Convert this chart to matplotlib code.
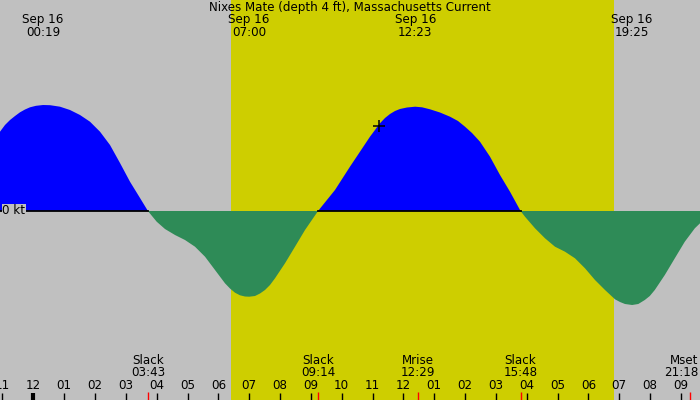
import numpy as np
import matplotlib
matplotlib.use("Agg")
import matplotlib.pyplot as plt

# ---- data (hours after midnight Sep 16, current in kt) ----
hours = [-1.080, -0.918, -0.755, -0.593, -0.431, -0.269, -0.107, 0.088, 0.317, 0.545,
         0.866, 1.190, 1.514, 1.838, 2.163, 2.487, 2.811, 3.135, 3.460, 3.717,
         3.849, 4.001, 4.270, 4.595, 4.919, 5.243, 5.568, 5.892, 6.216, 6.378,
         6.540, 6.702, 6.864, 7.000, 7.189, 7.351, 7.513, 7.675, 7.837, 8.161,
         8.486, 8.810, 9.233, 9.782, 10.268, 10.593, 10.917, 11.241, 11.404, 11.566,
         11.728, 11.890, 12.117, 12.383, 12.605, 12.863, 13.187, 13.512, 13.771, 13.998,
         14.225, 14.484, 14.809, 15.133, 15.457, 15.800, 15.943, 16.268, 16.592, 16.916,
         17.240, 17.565, 17.889, 18.213, 18.538, 18.862, 19.024, 19.186, 19.417, 19.617,
         19.828, 19.990, 20.152, 20.477, 20.801, 21.125, 21.450, 21.618]
current = [0.793, 0.860, 0.910, 0.950, 0.987, 1.015, 1.037, 1.052, 1.060, 1.058,
           1.043, 1.010, 0.960, 0.893, 0.793, 0.660, 0.480, 0.293, 0.130, 0.000,
           -0.050, -0.107, -0.180, -0.240, -0.290, -0.357, -0.457, -0.590, -0.723, -0.775,
           -0.817, -0.843, -0.855, -0.857, -0.850, -0.825, -0.790, -0.740, -0.673, -0.523,
           -0.357, -0.190, 0.000, 0.210, 0.443, 0.593, 0.743, 0.877, 0.930, 0.970,
           1.000, 1.020, 1.035, 1.043, 1.037, 1.017, 0.985, 0.943, 0.900, 0.843,
           0.780, 0.693, 0.543, 0.360, 0.193, 0.000, -0.057, -0.173, -0.273, -0.357,
           -0.407, -0.473, -0.573, -0.690, -0.790, -0.883, -0.910, -0.930, -0.940, -0.930,
           -0.890, -0.850, -0.790, -0.640, -0.473, -0.307, -0.173, -0.123]

title = "Nixes Mate (depth 4 ft), Massachusetts Current"

extreme_hours = [0.317, 7.000, 12.383, 19.417]
extreme_labels = ["Sep 16\n00:19", "Sep 16\n07:00", "Sep 16\n12:23", "Sep 16\n19:25"]

event_hours = [3.717, 9.233, 12.483, 15.800, 21.300]
event_labels = ["Slack\n03:43", "Slack\n09:14", "Mrise\n12:29", "Slack\n15:48", "Mset\n21:18"]

sunrise, sunset = 6.41, 18.83
now_hour, now_value = 11.21, 0.85

tick_hours = list(range(-1, 22))
tick_labels = ["%02d" % (12 if h % 12 == 0 else h % 12) for h in tick_hours]

x_range = (-1.080, 21.618)
y_range = (-1.89, 2.11)

# ---- figure ----
fig = plt.figure(figsize=(7, 4), dpi=100)
ax = fig.add_axes([0, 0, 1, 1])
ax.set_xlim(*x_range)
ax.set_ylim(*y_range)
ax.set_facecolor("#C0C0C0")
for s in ax.spines.values():
    s.set_visible(False)
ax.set_xticks([]); ax.set_yticks([])

ax.axvspan(sunrise, sunset, color="#CECE00", zorder=0, lw=0)

t = np.array(hours); v = np.array(current)
ax.fill_between(t, 0, v, where=v >= 0, interpolate=True, color="#0000FF", lw=0, zorder=2)
ax.fill_between(t, 0, v, where=v <= 0, interpolate=True, color="#2E8B57", lw=0, zorder=2)

zero = np.where(v >= 0, 0.0, np.nan)
ax.plot(t, zero, color="black", lw=1.3, zorder=3)

ax.plot([now_hour], [now_value], marker="+", color="black", ms=9, mew=1.1, zorder=4)

fs = 8.6
ax.text(-1.0, 0, "0 kt", ha="left", va="center", fontsize=fs, color="black",
        zorder=5, bbox=dict(facecolor="#C0C0C0", edgecolor="none", pad=0.5))

xt = ax.get_xaxis_transform()
ax.text(0.5, 0.982, title, transform=ax.transAxes, ha="center", va="center", fontsize=fs, zorder=6)

for h, lab in zip(extreme_hours, extreme_labels):
    ax.text(h, 0.935, lab, transform=xt, ha="center", va="center", fontsize=fs,
            linespacing=0.98, zorder=6)

for h, lab in zip(event_hours, event_labels):
    if h > x_range[1] - 0.7:
        ax.text(0.998, 0.084, lab, transform=ax.transAxes, ha="right", va="center",
                fontsize=fs, linespacing=0.98, zorder=6)
    else:
        ax.text(h, 0.084, lab, transform=xt, ha="center", va="center", fontsize=fs,
                linespacing=0.98, zorder=6)

for h, lab in zip(tick_hours, tick_labels):
    ax.text(h, 0.037, lab, transform=xt, ha="center", va="center", fontsize=fs, zorder=6)

ax.vlines(tick_hours, 0, 0.018, transform=xt, color="black", lw=1, zorder=6)
ax.vlines([0], 0, 0.018, transform=xt, color="black", lw=3, zorder=6)
ax.vlines(event_hours, 0, 0.02, transform=xt, color="red", lw=1, zorder=6)

fig.savefig("out.png", dpi=100)
